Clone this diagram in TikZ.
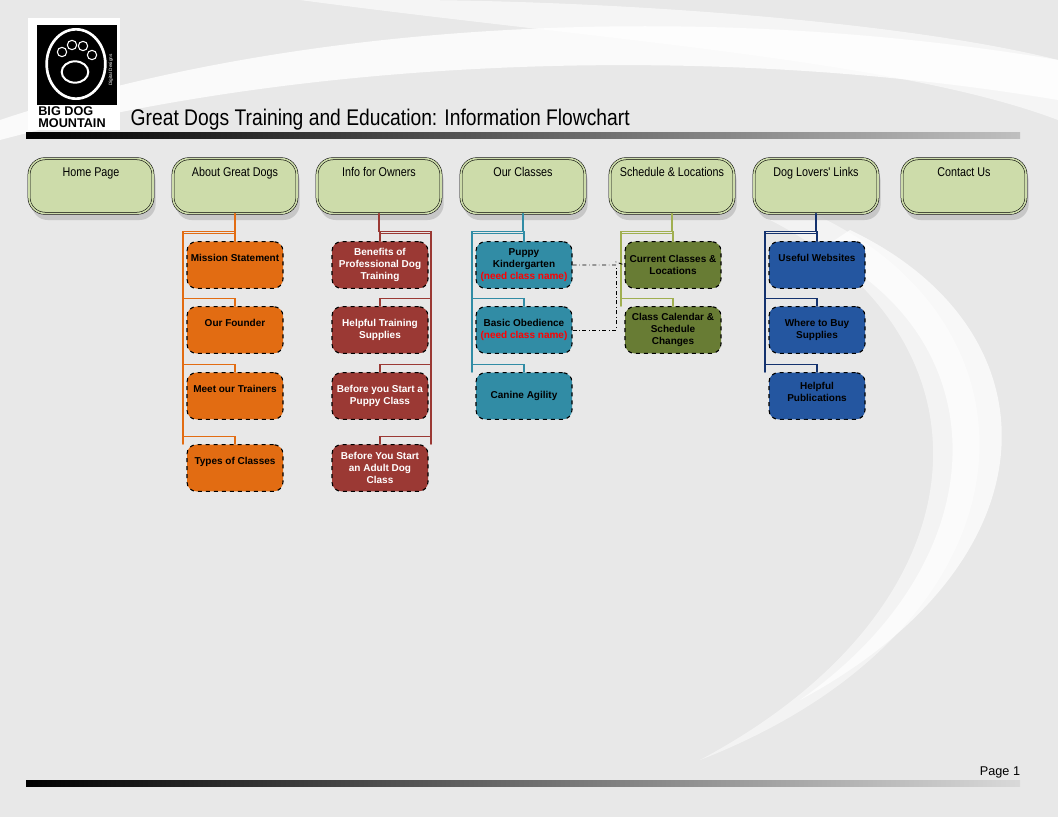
\documentclass[tikz,border=0pt]{standalone}
\usepackage{fontspec}
\setmainfont{Liberation Sans}
\newfontfamily\narrowfont[FakeStretch=0.85]{Liberation Sans}
\usetikzlibrary{positioning,shadows}
\definecolor{topfill}{RGB}{205,220,170}
\definecolor{orangebox}{RGB}{226,108,18}
\definecolor{redbox}{RGB}{155,57,52}
\definecolor{tealbox}{RGB}{49,140,165}
\definecolor{greenbox}{RGB}{104,124,52}
\definecolor{bluebox}{RGB}{36,86,160}
\definecolor{greenline}{RGB}{160,175,80}
\definecolor{bluelinec}{RGB}{20,50,110}
\definecolor{bg}{RGB}{232,232,232}
\tikzset{%
    menu/.style={draw=black, double=topfill, double distance=1.2pt, fill=topfill,
        rounded corners=12pt, minimum width=93pt, minimum height=41pt,
        text depth=21pt, font=\narrowfont\fontsize{9.5}{11}\selectfont,
        drop shadow={shadow xshift=2pt, shadow yshift=-5pt, fill=black!25, opacity=0.8}},
    page/.style={draw=black, dashed, thick, rounded corners=7pt, minimum width=72pt,
        minimum height=35pt, align=center,
        font=\bfseries\fontsize{7.5}{9}\selectfont, inner sep=0pt},
    link/.style={thick, line cap=round}
}
\begin{document}
\begin{tikzpicture}[x=0.75pt,y=-0.75pt]
    \useasboundingbox (0,0) rectangle (1058,817);
    % background and swooshes
    \fill[bg] (0,0) rectangle (1058,817);
    \fill[white,opacity=0.8] (0,120) .. controls (300,20) and (700,0) .. (1058,60) -- (1058,100) .. controls (700,40) and (300,60) .. (0,140) -- cycle;
    \fill[white,opacity=0.6] (300,0) .. controls (600,40) and (900,60) .. (1058,120) -- (1058,60) .. controls (900,20) and (600,0) .. (400,0) -- cycle;
    \fill[white,opacity=0.7] (850,230) .. controls (1060,330) and (1060,560) .. (800,700) .. controls (1000,560) and (1000,340) .. (820,250) -- cycle;
    \fill[white,opacity=0.5] (780,200) .. controls (1058,300) and (1058,620) .. (700,760) .. controls (1000,600) and (1000,330) .. (760,215) -- cycle;
    % logo
    \fill[white] (28,18) rectangle (120,130);
    \fill[black] (37,25) rectangle (117,105);
    \draw[white,line width=2pt] (76,64) ellipse (22pt and 26pt);
    \draw[white,line width=1.5pt] (75,72) ellipse (10pt and 8pt);
    \foreach \px/\py in {62/52, 72/45, 83/46, 92/55}
        \draw[white,thick] (\px,\py) circle (3.5pt);
    \node[white, font=\fontsize{3.5}{4}\selectfont, rotate=90] at (111,70) {Digital Designs};
    \node[font=\bfseries\fontsize{9.5}{8.5}\selectfont, align=left, inner sep=0pt] at (72,117) {BIG DOG\\MOUNTAIN};
    \node[anchor=base west, font=\narrowfont\fontsize{17}{20}\selectfont] (title) at (126,126) {Great Dogs Training and Education: Information Flowchart};
    % header and footer bars
    \shade[left color=black, right color=black!25] (26,133) rectangle (1020,139);
    \shade[left color=black, right color=black!15] (26,780) rectangle (1020,786);
    \node[font=\fontsize{9.5}{11}\selectfont] (pg) at (1000,772) {Page 1};
    % menu
    \node[menu] (home) at (91,186) {Home Page};
    \node[menu] (about) at (235,186) {About Great Dogs};
    \node[menu] (owners) at (379,186) {Info for Owners};
    \node[menu] (classes) at (523,186) {Our Classes};
    \node[menu] (sched) at (672,186) {Schedule \& Locations};
    \node[menu] (links) at (816,186) {Dog Lovers' Links};
    \node[menu] (contact) at (964,186) {Contact Us};
    % pages
    \node[page, fill=orangebox] (mission) at (235,265) {Mission Statement\\[1pt]};
    \node[page, fill=orangebox] (founder) at (235,330) {Our Founder\\[1pt]};
    \node[page, fill=orangebox] (trainers) at (235,396) {Meet our Trainers\\[1pt]};
    \node[page, fill=orangebox] (types) at (235,468) {Types of Classes\\[1pt]};
    \node[page, fill=redbox, text=white] (benefits) at (380,265) {Benefits of\\Professional Dog\\Training};
    \node[page, fill=redbox, text=white] (supplies) at (380,330) {Helpful Training\\Supplies};
    \node[page, fill=redbox, text=white] (puppyst) at (380,396) {Before you Start a\\Puppy Class};
    \node[page, fill=redbox, text=white] (adultst) at (380,468) {Before You Start\\an Adult Dog\\Class};
    \node[page, fill=tealbox] (kinder) at (524,265) {Puppy\\Kindergarten\\\textcolor{red}{(need class name)}};
    \node[page, fill=tealbox] (basic) at (524,330) {Basic Obedience\\\textcolor{red}{(need class name)}};
    \node[page, fill=tealbox] (agility) at (524,396) {Canine Agility};
    \node[page, fill=greenbox] (current) at (673,265) {Current Classes \&\\Locations};
    \node[page, fill=greenbox] (calendar) at (673,330) {Class Calendar \&\\Schedule\\Changes};
    \node[page, fill=bluebox] (websites) at (817,265) {Useful Websites\\[1pt]};
    \node[page, fill=bluebox] (wherebuy) at (817,330) {Where to Buy\\Supplies};
    \node[page, fill=bluebox] (pubs) at (817,396) {Helpful\\Publications\\[-3pt]};
    % connectors
    \draw[link, orangebox] (about.south) -- ++(0,18) -| (mission.north);
    \foreach \n in {mission,founder,trainers,types}
        \draw[link, orangebox] (about.south) ++(0,18) -| (183,0|-\n.north) ++(0,-8) -| (\n.north);
    \draw[link, redbox] (owners.south) -- ++(0,18) -| (benefits.north);
    \foreach \n in {benefits,supplies,puppyst,adultst}
        \draw[link, redbox] (owners.south) ++(0,18) -| (431,0|-\n.north) ++(0,-8) -| (\n.north);
    \draw[link, tealbox] (classes.south) -- ++(0,18) -| (kinder.north);
    \foreach \n in {kinder,basic,agility}
        \draw[link, tealbox] (classes.south) ++(0,18) -| (472,0|-\n.north) ++(0,-8) -| (\n.north);
    \draw[link, greenline] (sched.south) -- ++(0,18) -| (current.north);
    \foreach \n in {current,calendar}
        \draw[link, greenline] (sched.south) ++(0,18) -| (621,0|-\n.north) ++(0,-8) -| (\n.north);
    \draw[link, bluelinec] (links.south) -- ++(0,18) -| (websites.north);
    \foreach \n in {websites,wherebuy,pubs}
        \draw[link, bluelinec] (links.south) ++(0,18) -| (765,0|-\n.north) ++(0,-8) -| (\n.north);
    % class to schedule links
    \draw[dash dot, semithick] (kinder.east) -| (616,262) -- (current.west);
    \draw[dash dot, semithick] (basic.east) -| (616,265);
\end{tikzpicture}
\end{document}
